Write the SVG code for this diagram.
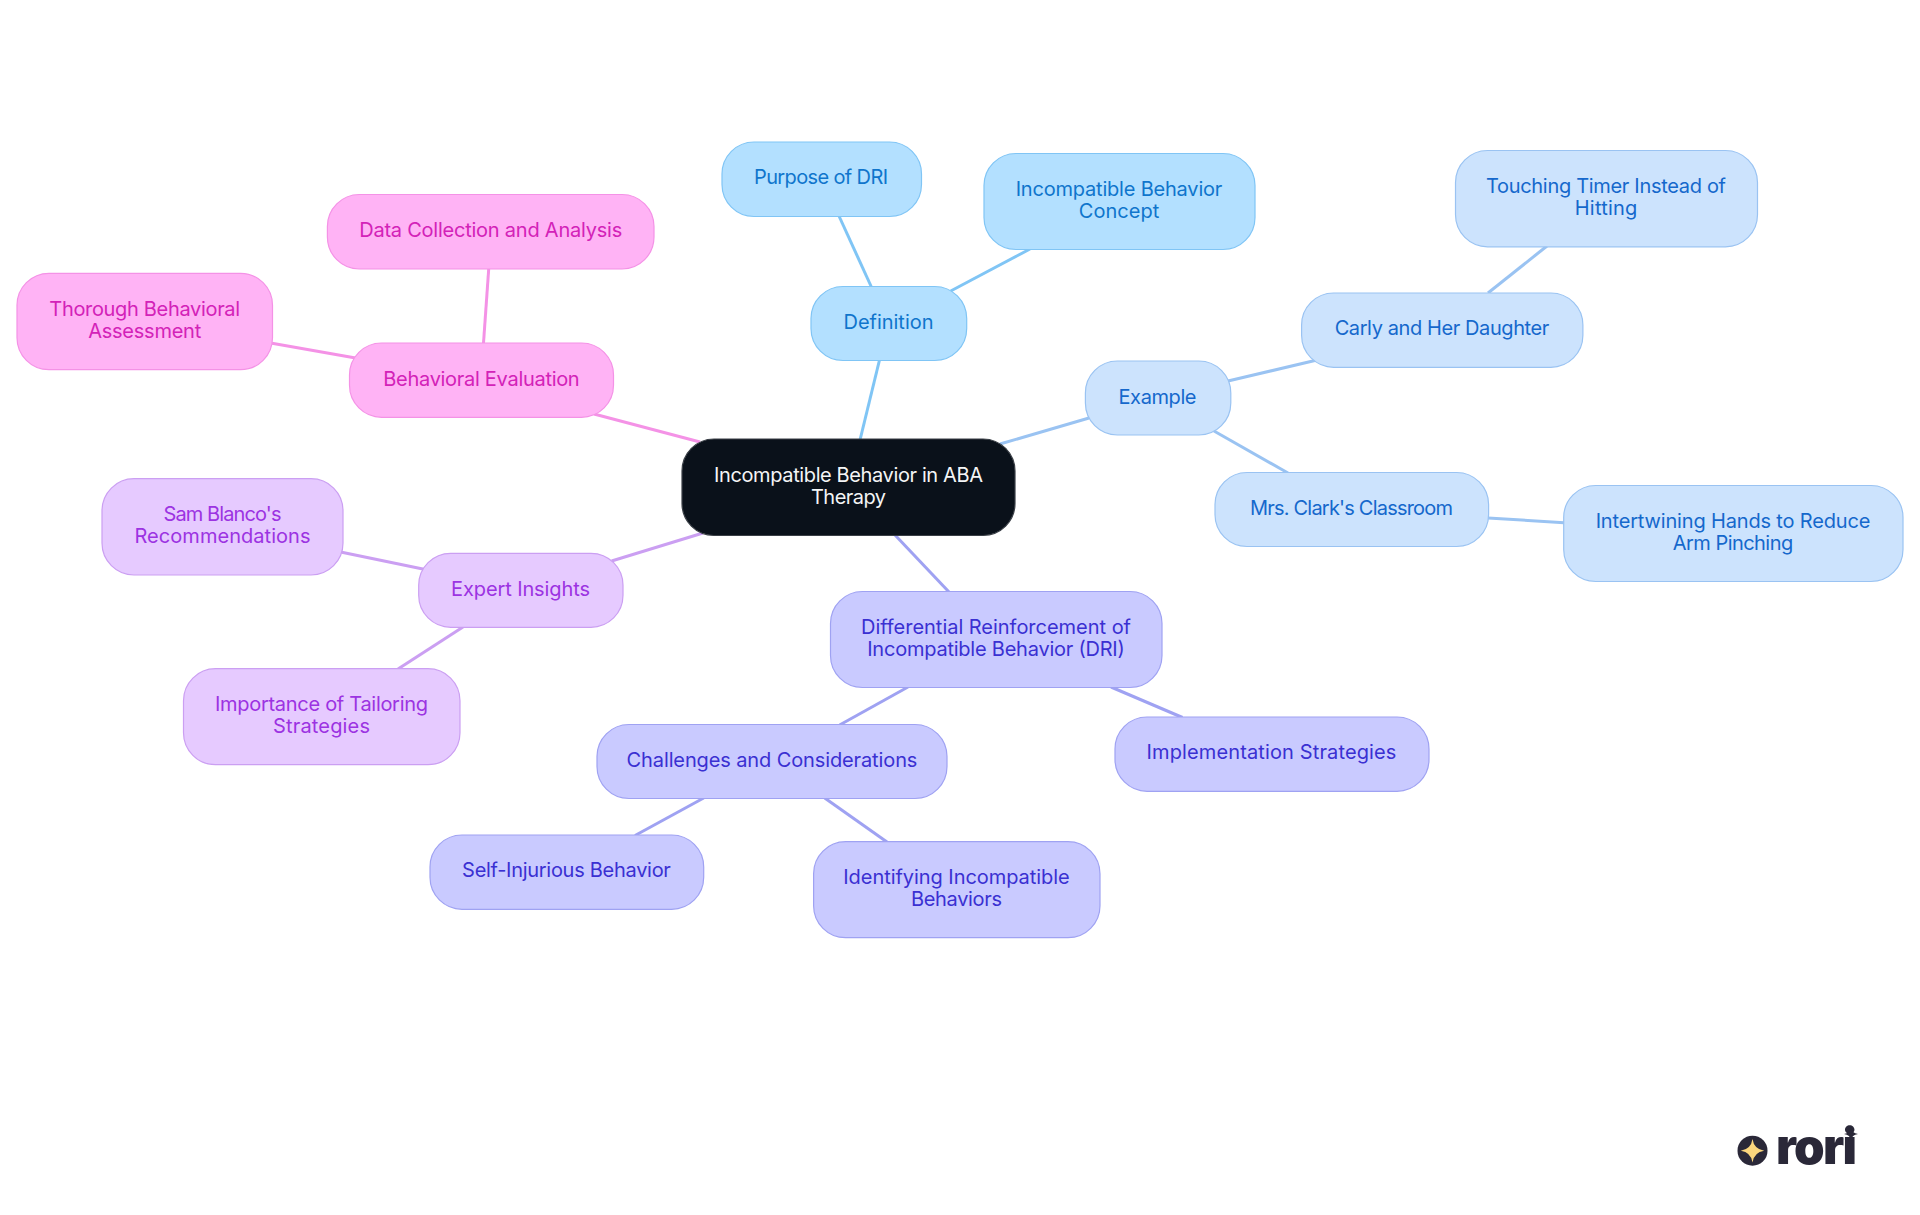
<svg xmlns="http://www.w3.org/2000/svg" width="1920" height="1215" viewBox="0 0 1920 1215">
<defs><style>
text{font-family:"Inter","Noto Sans","Liberation Sans",sans-serif;font-size:20px;text-anchor:middle;font-weight:400}
rect{stroke-width:1.2}
#connectors line{stroke-width:3;fill:none}
.root rect{fill:#0a111a;stroke:#3a3f46}.root text{fill:#f4f5f6}
.a rect{fill:#b3e0ff;stroke:#80c5f5}.a text{fill:#0f75cc}
.al{stroke:#80c5f5}
.b rect{fill:#cce3fd;stroke:#9ac3f2}.b text{fill:#1568cc}
.bl{stroke:#9ac3f2}
.c rect{fill:#c9caff;stroke:#9fa2f2}.c text{fill:#3a30d2}
.cl{stroke:#9fa2f2}
.d rect{fill:#e6caff;stroke:#cb9ff2}.d text{fill:#9c33e2}
.dl{stroke:#cb9ff2}
.e rect{fill:#ffb3f5;stroke:#f492e6}.e text{fill:#d322b8}
.el{stroke:#f492e6}
#logo text{font-size:49px;font-weight:900;fill:#2a2838}
</style></defs>
<rect width="1920" height="1215" fill="#ffffff" stroke="none"/>
<g id="connectors">
<line class="al" x1="879.5" y1="360" x2="860" y2="440"/>
<line class="al" x1="839" y1="216" x2="871.4" y2="287"/>
<line class="al" x1="1030" y1="249" x2="950.7" y2="291"/>
<line class="bl" x1="1000" y1="444" x2="1089" y2="418"/>
<line class="bl" x1="1228" y1="381" x2="1317" y2="360"/>
<line class="bl" x1="1214" y1="431" x2="1288" y2="473"/>
<line class="bl" x1="1547" y1="246" x2="1488" y2="293"/>
<line class="bl" x1="1488" y1="518" x2="1564" y2="522.7"/>
<line class="cl" x1="895" y1="535" x2="949" y2="592"/>
<line class="cl" x1="908" y1="687" x2="839.6" y2="725"/>
<line class="cl" x1="1111" y1="687" x2="1182.5" y2="717.5"/>
<line class="cl" x1="703.7" y1="798" x2="635" y2="835.5"/>
<line class="cl" x1="824.7" y1="798" x2="887" y2="842"/>
<line class="dl" x1="703" y1="533" x2="611.6" y2="561"/>
<line class="dl" x1="341.8" y1="552.3" x2="424" y2="569.3"/>
<line class="dl" x1="463" y1="627" x2="398" y2="669"/>
<line class="el" x1="700" y1="442" x2="594" y2="414"/>
<line class="el" x1="488.7" y1="269" x2="483.5" y2="343"/>
<line class="el" x1="272" y1="343.3" x2="355.6" y2="358"/>
</g>
<g id="root" class="root"><rect x="682" y="439" width="333" height="96.5" rx="32"/><text x="848.5" y="481.7" textLength="269">Incompatible Behavior in ABA</text><text x="848.5" y="504" textLength="75">Therapy</text></g>
<g id="definition" class="a"><rect x="811" y="286.5" width="155.7" height="74" rx="32"/><text x="888.5" y="329" textLength="90">Definition</text></g>
<g id="purpose" class="a"><rect x="722" y="142" width="199.5" height="74.5" rx="32"/><text x="821" y="184" textLength="134">Purpose of DRI</text></g>
<g id="concept" class="a"><rect x="984" y="153.5" width="271" height="96" rx="32"/><text x="1119" y="196" textLength="206.7">Incompatible Behavior</text><text x="1119" y="218.3" textLength="80.4">Concept</text></g>
<g id="example" class="b"><rect x="1085.4" y="361" width="145.4" height="74" rx="32"/><text x="1157.5" y="404" textLength="78">Example</text></g>
<g id="carly" class="b"><rect x="1301.6" y="293" width="281.3" height="74.3" rx="32"/><text x="1442" y="335" textLength="214.7">Carly and Her Daughter</text></g>
<g id="touching" class="b"><rect x="1455.5" y="150.5" width="302" height="96.3" rx="32"/><text x="1606" y="193" textLength="240">Touching Timer Instead of</text><text x="1606" y="215.3" textLength="62.4">Hitting</text></g>
<g id="clark" class="b"><rect x="1215" y="472.5" width="273.6" height="74" rx="32"/><text x="1351.5" y="515" textLength="203">Mrs. Clark's Classroom</text></g>
<g id="intertwining" class="b"><rect x="1563.7" y="485.5" width="339.3" height="96" rx="32"/><text x="1733" y="528" textLength="274.7">Intertwining Hands to Reduce</text><text x="1733" y="550.3" textLength="120.4">Arm Pinching</text></g>
<g id="dri" class="c"><rect x="830.5" y="591.5" width="331.5" height="96" rx="32"/><text x="996" y="634" textLength="270">Differential Reinforcement of</text><text x="996" y="656.3" textLength="257.6">Incompatible Behavior (DRI)</text></g>
<g id="implementation" class="c"><rect x="1115" y="717" width="314" height="74.3" rx="32"/><text x="1271.5" y="759" textLength="249.8">Implementation Strategies</text></g>
<g id="challenges" class="c"><rect x="597" y="724.5" width="350" height="74" rx="32"/><text x="772" y="767" textLength="290.8">Challenges and Considerations</text></g>
<g id="selfinjurious" class="c"><rect x="430" y="835" width="273.7" height="74.3" rx="32"/><text x="566.5" y="877" textLength="208.8">Self-Injurious Behavior</text></g>
<g id="identifying" class="c"><rect x="813.6" y="841.7" width="286.4" height="96" rx="32"/><text x="956.5" y="884" textLength="226.4">Identifying Incompatible</text><text x="956.5" y="906.3" textLength="91">Behaviors</text></g>
<g id="expert" class="d"><rect x="418.7" y="553.3" width="204.3" height="74" rx="32"/><text x="520.5" y="596" textLength="139">Expert Insights</text></g>
<g id="sam" class="d"><rect x="102" y="478.7" width="241" height="96.3" rx="32"/><text x="222.5" y="521" textLength="118">Sam Blanco's</text><text x="222.5" y="543.3" textLength="176">Recommendations</text></g>
<g id="importance" class="d"><rect x="183.5" y="668.7" width="276.5" height="96" rx="32"/><text x="321.5" y="711" textLength="213">Importance of Tailoring</text><text x="321.5" y="733.3" textLength="97">Strategies</text></g>
<g id="behavioral" class="e"><rect x="349.5" y="343" width="264" height="74.3" rx="32"/><text x="481.5" y="385.5" textLength="196.4">Behavioral Evaluation</text></g>
<g id="data" class="e"><rect x="327.4" y="194.5" width="326.6" height="74.5" rx="32"/><text x="490.7" y="237" textLength="263">Data Collection and Analysis</text></g>
<g id="thorough" class="e"><rect x="17" y="273.3" width="255.5" height="96.4" rx="32"/><text x="144.7" y="316" textLength="190.8">Thorough Behavioral</text><text x="144.7" y="338.3" textLength="113">Assessment</text></g>
<g id="logo">
<circle cx="1752.5" cy="1150.7" r="15" fill="#2a2838"/>
<path d="M1752.5 1139Q1754 1149.2 1764.2 1150.7Q1754 1152.2 1752.5 1162.4Q1751 1152.2 1740.8 1150.7Q1751 1149.2 1752.5 1139Z" fill="#fbd67d"/>
<text x="1816.5" y="1164" textLength="81">rori</text>
<path d="M1851 1127Q1851.7 1133.3 1858 1134Q1851.7 1134.7 1851 1141Q1850.3 1134.7 1844 1134Q1850.3 1133.3 1851 1127Z" fill="#2a2838"/>
</g>
</svg>
